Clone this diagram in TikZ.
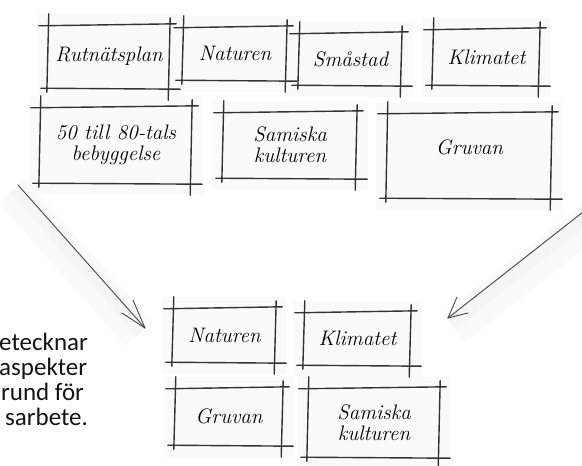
\documentclass[tikz,border=0pt]{standalone}
\usepackage{fontspec}
\newfontfamily\sansf{Carlito}
\pgfdeclarelayer{bg}
\pgfsetlayers{bg,main}
\tikzset{
  sk/.style={line width=1.4pt, draw=black!80, line cap=round},
  boxnode/.style={inner sep=0pt, font=\fontsize{21}{21}\selectfont\itshape, align=center, text=black},
  paper/.style={fill=black!2},
  arrowline/.style={line width=0.9pt, draw=black!72, line cap=round},
  glowwide/.style={line width=36pt, draw=black!2, line cap=butt},
  glownarrow/.style={line width=14pt, draw=black!4, line cap=butt},
  side/.style={font=\sansf\fontsize{25}{25}\selectfont, anchor=base west, inner sep=0pt, text=black!92},
}
\newcommand{\skbox}[1]{%
  \draw[sk] ([shift={(-9,1)}]#1.north west) -- ([shift={(6,-1)}]#1.north east);
  \draw[sk] ([shift={(-7,0)}]#1.south west) -- ([shift={(10,1)}]#1.south east);
  \draw[sk] ([shift={(1,-11)}]#1.north west) -- ([shift={(-1,4)}]#1.south west);
  \draw[sk] ([shift={(0,-7)}]#1.north east) -- ([shift={(-2,12)}]#1.south east);
  \begin{pgfonlayer}{bg}
    \fill[paper] ([shift={(-11,-11)}]#1.north west) rectangle ([shift={(11,12)}]#1.south east);
  \end{pgfonlayer}
}
\begin{document}
\begin{tikzpicture}[x=1pt,y=-1pt]
\useasboundingbox (0,0) rectangle (582,466);
\clip (0,0) rectangle (582,466);

% top row
\node[boxnode, minimum width=122pt, minimum height=63pt] (b1) at (109,56.5) {Rutnätsplan};
\node[boxnode, minimum width=104pt, minimum height=53pt] (b2) at (235,53.5) {Naturen};
\node[boxnode, minimum width=103pt, minimum height=52pt] (b3) at (350.5,59) {Småstad};
\node[boxnode, minimum width=107pt, minimum height=56pt] (b4) at (486.5,57) {Klimatet};
% second row
\node[boxnode, minimum width=152pt, minimum height=76pt] (b5) at (116,145) {50 till 80-tals\\bebyggelse};
\node[boxnode, minimum width=134pt, minimum height=66pt] (b6) at (290,145) {Samiska\\kulturen};
\node[boxnode, minimum width=165pt, minimum height=85pt] (b7) at (469.5,155.5) {};
\node[boxnode] (g7) at (469.5,147) {Gruvan};
% result group
\node[boxnode, minimum width=103pt, minimum height=54pt] (b8) at (224.5,335) {Naturen};
\node[boxnode, minimum width=108pt, minimum height=57pt] (b9) at (229,416.5) {Gruvan};
\node[boxnode, minimum width=107pt, minimum height=53pt] (b10) at (357.5,338.5) {Klimatet};
\node[boxnode, minimum width=132pt, minimum height=69pt] (b11) at (374,422.5) {Samiska\\kulturen};

\foreach \b in {b1,b2,b3,b4,b5,b6,b7,b8,b9,b10,b11} {\skbox{\b}}

% arrows
\coordinate (la1) at (18,185);
\coordinate (la2) at (145,328);
\coordinate (ra1) at (592,205);
\coordinate (ra2) at (448,318);
\begin{pgfonlayer}{bg}
  \draw[glowwide] ([shift={(-6,6)}]la1) -- ([shift={(-6,6)}]la2);
  \draw[glownarrow] ([shift={(-3,3)}]la1) -- ([shift={(-3,3)}]la2);
  \draw[glowwide] ([shift={(6,10)}]ra1) -- ([shift={(6,10)}]ra2);
  \draw[glownarrow] ([shift={(3,5)}]ra1) -- ([shift={(3,5)}]ra2);
\end{pgfonlayer}
\draw[arrowline] (la1) -- (la2);
\draw[arrowline] (la2) -- ++(-23,-15);
\draw[arrowline] (la2) -- ++(-12,-28);
\draw[arrowline] (ra1) -- (ra2);
\draw[arrowline] (ra2) -- ++(9,-21);
\draw[arrowline] (ra2) -- ++(20,-5);

% side text (cut at the left edge)
\node[side] (t1) at (-1,350) {etecknar};
\node[side] (t2) at (-1,375) {aspekter};
\node[side] (t3) at (1,400) {rund för};
\node[side] (t4) at (5,425) {sarbete.};
\end{tikzpicture}
\end{document}
